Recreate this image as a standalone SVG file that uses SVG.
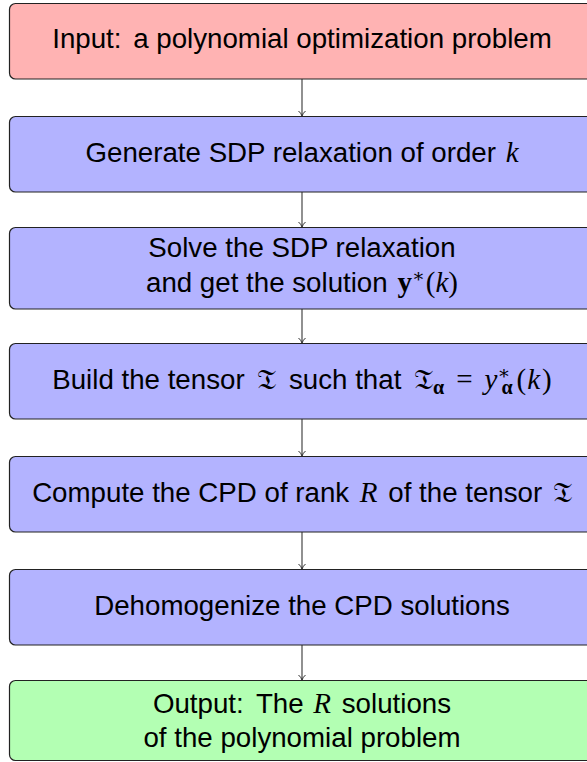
<svg xmlns="http://www.w3.org/2000/svg" width="587" height="762" viewBox="0 0 587 762">
<defs>
<style>
.box{stroke:#222;stroke-width:1.2}
.red{fill:#ffb3b3}
.blue{fill:#b3b3ff}
.green{fill:#b3ffb3}
.t{font-family:"Liberation Sans","DejaVu Sans",sans-serif;font-size:27.7px;fill:#000;text-anchor:middle}
.m{font-family:"Liberation Serif","DejaVu Serif",serif;font-style:italic;font-size:29px}
.b{font-family:"Liberation Serif","DejaVu Serif",serif;font-weight:bold;font-size:29px}
.f{font-family:"DejaVu Serif","Noto Sans",serif;font-size:29px}
.r{font-family:"Liberation Serif","DejaVu Serif",serif;font-size:29px}
.sup{font-family:"Liberation Serif","DejaVu Serif",serif;font-size:19px}
.sub{font-family:"Liberation Serif","DejaVu Serif",serif;font-weight:bold;font-size:20px}
.c{stroke:#555;stroke-width:1.3;fill:none}
</style>
<marker id="ah" markerWidth="10" markerHeight="8" refX="6" refY="4" orient="auto" markerUnits="userSpaceOnUse">
<path d="M1,0.5 Q3,3 6,4 Q3,5 1,7.5" fill="none" stroke="#333" stroke-width="1"/>
</marker>
</defs>
<g id="connectors">
<line class="c" x1="302" y1="79" x2="302" y2="116" marker-end="url(#ah)"/>
<line class="c" x1="302" y1="192" x2="302" y2="227" marker-end="url(#ah)"/>
<line class="c" x1="302" y1="309" x2="302" y2="343" marker-end="url(#ah)"/>
<line class="c" x1="302" y1="419" x2="302" y2="456" marker-end="url(#ah)"/>
<line class="c" x1="302" y1="532" x2="302" y2="569" marker-end="url(#ah)"/>
<line class="c" x1="302" y1="645" x2="302" y2="680" marker-end="url(#ah)"/>
</g>
<g id="input">
<rect class="box red" x="9.5" y="3.5" width="586" height="75.5" rx="6"/>
<text class="t" x="302" y="48">Input: <tspan dx="4">a polynomial optimization problem</tspan></text>
</g>
<g id="generate">
<rect class="box blue" x="9.5" y="116.5" width="586" height="75.5" rx="6"/>
<text class="t" x="302" y="162">Generate SDP relaxation of order <tspan class="m" dx="2">k</tspan></text>
</g>
<g id="solve">
<rect class="box blue" x="9.5" y="227.5" width="586" height="81.5" rx="6"/>
<text class="t" x="302" y="257">Solve the SDP relaxation</text>
<text class="t" x="302" y="292">and get the solution <tspan class="b" dx="2">y</tspan><tspan class="sup" dy="-10">∗</tspan><tspan class="r" dx="1" dy="10">(</tspan><tspan class="m">k</tspan><tspan class="r">)</tspan></text>
</g>
<g id="build">
<rect class="box blue" x="9.5" y="343.5" width="586" height="75.5" rx="6"/>
<text class="t" x="302" y="389">Build the tensor <tspan class="f" dx="5">𝔗</tspan><tspan dx="5"> such that </tspan><tspan class="f" dx="5">𝔗</tspan><tspan class="sub" dy="5">α</tspan><tspan class="r" dx="12" dy="-5">=</tspan><tspan class="m" dx="12">y</tspan><tspan class="sup" dy="-10">∗</tspan><tspan class="sub" dx="-9" dy="15">α</tspan><tspan class="r" dx="4" dy="-5">(</tspan><tspan class="m" dx="1">k</tspan><tspan class="r" dx="2">)</tspan></text>
</g>
<g id="cpd">
<rect class="box blue" x="9.5" y="456.5" width="586" height="75.5" rx="6"/>
<text class="t" x="302" y="502">Compute the CPD of rank <tspan class="m" dx="3">R</tspan><tspan dx="3"> of the tensor </tspan><tspan class="f" dx="3">𝔗</tspan></text>
</g>
<g id="dehomogenize">
<rect class="box blue" x="9.5" y="569.5" width="586" height="75.5" rx="6"/>
<text class="t" x="302" y="615">Dehomogenize the CPD solutions</text>
</g>
<g id="output">
<rect class="box green" x="9.5" y="680.5" width="586" height="80" rx="6"/>
<text class="t" x="302" y="713">Output: <tspan dx="5">The </tspan><tspan class="m" dx="2">R</tspan><tspan dx="3"> solutions</tspan></text>
<text class="t" x="302" y="747">of the polynomial problem</text>
</g>
</svg>
